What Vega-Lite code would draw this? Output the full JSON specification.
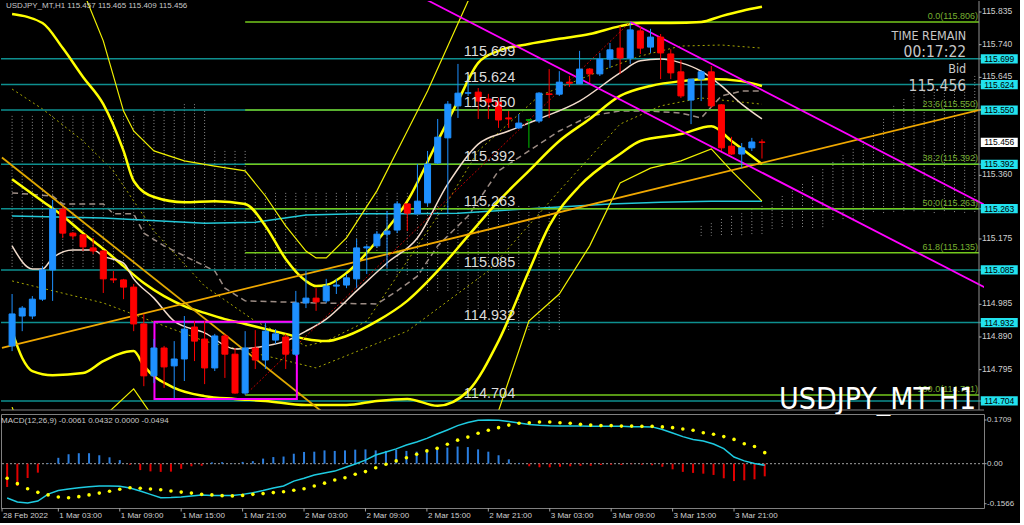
{
"$schema":"https://vega.github.io/schema/vega-lite/v6.json",
"background":"#000000",
"padding":{"left":0,"top":0,"right":2,"bottom":2},
"spacing":4,
"bounds":"flush",
"config":{"view":{"stroke":null}},
"datasets":{
"candles":[
{"t":"2022-02-28T22:00Z","o":114.864,"h":115.015,"l":114.849,"c":114.957},
{"t":"2022-02-28T23:00Z","o":114.951,"h":114.980,"l":114.907,"c":114.974},
{"t":"2022-03-01T00:00Z","o":114.951,"h":115.009,"l":114.942,"c":115.000},
{"t":"2022-03-01T01:00Z","o":115.000,"h":115.096,"l":114.995,"c":115.085},
{"t":"2022-03-01T02:00Z","o":115.085,"h":115.288,"l":114.995,"c":115.262},
{"t":"2022-03-01T03:00Z","o":115.262,"h":115.268,"l":115.178,"c":115.192},
{"t":"2022-03-01T04:00Z","o":115.192,"h":115.195,"l":115.175,"c":115.184},
{"t":"2022-03-01T05:00Z","o":115.187,"h":115.189,"l":115.140,"c":115.152},
{"t":"2022-03-01T06:00Z","o":115.149,"h":115.178,"l":115.131,"c":115.140},
{"t":"2022-03-01T07:00Z","o":115.140,"h":115.143,"l":115.018,"c":115.059},
{"t":"2022-03-01T08:00Z","o":115.059,"h":115.082,"l":115.047,"c":115.056},
{"t":"2022-03-01T09:00Z","o":115.056,"h":115.059,"l":115.000,"c":115.035},
{"t":"2022-03-01T10:00Z","o":115.035,"h":115.044,"l":114.907,"c":114.928},
{"t":"2022-03-01T11:00Z","o":114.928,"h":114.957,"l":114.747,"c":114.777},
{"t":"2022-03-01T12:00Z","o":114.777,"h":114.884,"l":114.756,"c":114.858},
{"t":"2022-03-01T13:00Z","o":114.858,"h":114.864,"l":114.742,"c":114.803},
{"t":"2022-03-01T14:00Z","o":114.806,"h":114.878,"l":114.712,"c":114.826},
{"t":"2022-03-01T15:00Z","o":114.826,"h":114.951,"l":114.762,"c":114.913},
{"t":"2022-03-01T16:00Z","o":114.919,"h":114.936,"l":114.820,"c":114.878},
{"t":"2022-03-01T17:00Z","o":114.884,"h":114.936,"l":114.753,"c":114.800},
{"t":"2022-03-01T18:00Z","o":114.800,"h":114.899,"l":114.791,"c":114.893},
{"t":"2022-03-01T19:00Z","o":114.893,"h":114.899,"l":114.771,"c":114.840},
{"t":"2022-03-01T20:00Z","o":114.840,"h":114.858,"l":114.725,"c":114.727},
{"t":"2022-03-01T21:00Z","o":114.727,"h":114.907,"l":114.721,"c":114.858},
{"t":"2022-03-01T22:00Z","o":114.858,"h":114.910,"l":114.797,"c":114.823},
{"t":"2022-03-01T23:00Z","o":114.823,"h":114.931,"l":114.797,"c":114.907},
{"t":"2022-03-02T00:00Z","o":114.881,"h":114.913,"l":114.870,"c":114.899},
{"t":"2022-03-02T01:00Z","o":114.890,"h":114.899,"l":114.797,"c":114.840},
{"t":"2022-03-02T02:00Z","o":114.840,"h":115.024,"l":114.835,"c":114.989},
{"t":"2022-03-02T03:00Z","o":114.989,"h":115.082,"l":114.974,"c":115.003},
{"t":"2022-03-02T04:00Z","o":115.003,"h":115.032,"l":114.966,"c":114.992},
{"t":"2022-03-02T05:00Z","o":114.995,"h":115.059,"l":114.989,"c":115.038},
{"t":"2022-03-02T06:00Z","o":115.038,"h":115.059,"l":115.015,"c":115.041},
{"t":"2022-03-02T07:00Z","o":115.041,"h":115.073,"l":115.032,"c":115.062},
{"t":"2022-03-02T08:00Z","o":115.059,"h":115.175,"l":115.032,"c":115.149},
{"t":"2022-03-02T09:00Z","o":115.149,"h":115.157,"l":115.073,"c":115.152},
{"t":"2022-03-02T10:00Z","o":115.155,"h":115.198,"l":115.149,"c":115.189},
{"t":"2022-03-02T11:00Z","o":115.189,"h":115.256,"l":115.091,"c":115.198},
{"t":"2022-03-02T12:00Z","o":115.201,"h":115.285,"l":115.192,"c":115.277},
{"t":"2022-03-02T13:00Z","o":115.277,"h":115.277,"l":115.198,"c":115.250},
{"t":"2022-03-02T14:00Z","o":115.248,"h":115.393,"l":115.248,"c":115.285},
{"t":"2022-03-02T15:00Z","o":115.280,"h":115.431,"l":115.271,"c":115.393},
{"t":"2022-03-02T16:00Z","o":115.396,"h":115.524,"l":115.393,"c":115.471},
{"t":"2022-03-02T17:00Z","o":115.469,"h":115.576,"l":115.248,"c":115.567},
{"t":"2022-03-02T18:00Z","o":115.562,"h":115.684,"l":115.527,"c":115.599},
{"t":"2022-03-02T19:00Z","o":115.599,"h":115.649,"l":115.591,"c":115.600},
{"t":"2022-03-02T20:00Z","o":115.602,"h":115.614,"l":115.524,"c":115.576},
{"t":"2022-03-02T21:00Z","o":115.582,"h":115.597,"l":115.524,"c":115.573},
{"t":"2022-03-02T22:00Z","o":115.573,"h":115.585,"l":115.498,"c":115.521},
{"t":"2022-03-02T23:00Z","o":115.527,"h":115.547,"l":115.498,"c":115.524},
{"t":"2022-03-03T00:00Z","o":115.498,"h":115.538,"l":115.495,"c":115.512},
{"t":"2022-03-03T01:00Z","o":115.521,"h":115.524,"l":115.440,"c":115.521},
{"t":"2022-03-03T02:00Z","o":115.518,"h":115.602,"l":115.512,"c":115.599},
{"t":"2022-03-03T03:00Z","o":115.597,"h":115.669,"l":115.527,"c":115.595},
{"t":"2022-03-03T04:00Z","o":115.596,"h":115.663,"l":115.591,"c":115.631},
{"t":"2022-03-03T05:00Z","o":115.631,"h":115.649,"l":115.617,"c":115.628},
{"t":"2022-03-03T06:00Z","o":115.626,"h":115.722,"l":115.626,"c":115.669},
{"t":"2022-03-03T07:00Z","o":115.669,"h":115.672,"l":115.629,"c":115.655},
{"t":"2022-03-03T08:00Z","o":115.655,"h":115.716,"l":115.649,"c":115.698},
{"t":"2022-03-03T09:00Z","o":115.698,"h":115.745,"l":115.672,"c":115.725},
{"t":"2022-03-03T10:00Z","o":115.730,"h":115.794,"l":115.655,"c":115.701},
{"t":"2022-03-03T11:00Z","o":115.701,"h":115.806,"l":115.684,"c":115.783},
{"t":"2022-03-03T12:00Z","o":115.780,"h":115.794,"l":115.713,"c":115.730},
{"t":"2022-03-03T13:00Z","o":115.733,"h":115.786,"l":115.716,"c":115.762},
{"t":"2022-03-03T14:00Z","o":115.762,"h":115.771,"l":115.640,"c":115.716},
{"t":"2022-03-03T15:00Z","o":115.713,"h":115.727,"l":115.640,"c":115.658},
{"t":"2022-03-03T16:00Z","o":115.661,"h":115.695,"l":115.585,"c":115.591},
{"t":"2022-03-03T17:00Z","o":115.579,"h":115.640,"l":115.509,"c":115.640},
{"t":"2022-03-03T18:00Z","o":115.640,"h":115.666,"l":115.576,"c":115.661},
{"t":"2022-03-03T19:00Z","o":115.661,"h":115.678,"l":115.556,"c":115.562},
{"t":"2022-03-03T20:00Z","o":115.565,"h":115.567,"l":115.431,"c":115.440},
{"t":"2022-03-03T21:00Z","o":115.445,"h":115.472,"l":115.419,"c":115.422},
{"t":"2022-03-03T22:00Z","o":115.422,"h":115.454,"l":115.381,"c":115.440},
{"t":"2022-03-03T23:00Z","o":115.440,"h":115.469,"l":115.431,"c":115.457},
{"t":"2022-03-04T00:00Z","o":115.457,"h":115.465,"l":115.409,"c":115.456}
],
"macd":[
{"t":"2022-02-28T22:00Z","m":-0.134,"s":-0.057,"h":-0.091},
{"t":"2022-02-28T23:00Z","m":-0.150,"s":-0.078,"h":-0.087},
{"t":"2022-03-01T00:00Z","m":-0.154,"s":-0.098,"h":-0.056},
{"t":"2022-03-01T01:00Z","m":-0.146,"s":-0.112,"h":-0.035},
{"t":"2022-03-01T02:00Z","m":-0.119,"s":-0.122,"h":0.002},
{"t":"2022-03-01T03:00Z","m":-0.105,"s":-0.130,"h":0.023},
{"t":"2022-03-01T04:00Z","m":-0.099,"s":-0.133,"h":0.037},
{"t":"2022-03-01T05:00Z","m":-0.094,"s":-0.129,"h":0.041},
{"t":"2022-03-01T06:00Z","m":-0.090,"s":-0.122,"h":0.041},
{"t":"2022-03-01T07:00Z","m":-0.087,"s":-0.115,"h":0.033},
{"t":"2022-03-01T08:00Z","m":-0.087,"s":-0.108,"h":0.025},
{"t":"2022-03-01T09:00Z","m":-0.088,"s":-0.100,"h":0.014},
{"t":"2022-03-01T10:00Z","m":-0.095,"s":-0.094,"h":-0.004},
{"t":"2022-03-01T11:00Z","m":-0.107,"s":-0.096,"h":-0.025},
{"t":"2022-03-01T12:00Z","m":-0.120,"s":-0.099,"h":-0.030},
{"t":"2022-03-01T13:00Z","m":-0.133,"s":-0.102,"h":-0.032},
{"t":"2022-03-01T14:00Z","m":-0.132,"s":-0.107,"h":-0.031},
{"t":"2022-03-01T15:00Z","m":-0.130,"s":-0.111,"h":-0.020},
{"t":"2022-03-01T16:00Z","m":-0.126,"s":-0.115,"h":-0.010},
{"t":"2022-03-01T17:00Z","m":-0.122,"s":-0.120,"h":-0.008},
{"t":"2022-03-01T18:00Z","m":-0.124,"s":-0.122,"h":0.005},
{"t":"2022-03-01T19:00Z","m":-0.124,"s":-0.125,"h":0.006},
{"t":"2022-03-01T20:00Z","m":-0.124,"s":-0.126,"h":0.001},
{"t":"2022-03-01T21:00Z","m":-0.120,"s":-0.124,"h":0.007},
{"t":"2022-03-01T22:00Z","m":-0.114,"s":-0.120,"h":0.010},
{"t":"2022-03-01T23:00Z","m":-0.105,"s":-0.117,"h":0.020},
{"t":"2022-03-02T00:00Z","m":-0.095,"s":-0.113,"h":0.026},
{"t":"2022-03-02T01:00Z","m":-0.087,"s":-0.110,"h":0.028},
{"t":"2022-03-02T02:00Z","m":-0.068,"s":-0.104,"h":0.039},
{"t":"2022-03-02T03:00Z","m":-0.057,"s":-0.098,"h":0.046},
{"t":"2022-03-02T04:00Z","m":-0.044,"s":-0.087,"h":0.047},
{"t":"2022-03-02T05:00Z","m":-0.036,"s":-0.076,"h":0.052},
{"t":"2022-03-02T06:00Z","m":-0.029,"s":-0.064,"h":0.050},
{"t":"2022-03-02T07:00Z","m":-0.015,"s":-0.055,"h":0.052},
{"t":"2022-03-02T08:00Z","m":-0.001,"s":-0.041,"h":0.055},
{"t":"2022-03-02T09:00Z","m":0.014,"s":-0.031,"h":0.056},
{"t":"2022-03-02T10:00Z","m":0.034,"s":-0.016,"h":0.052},
{"t":"2022-03-02T11:00Z","m":0.046,"s":-0.002,"h":0.050},
{"t":"2022-03-02T12:00Z","m":0.058,"s":0.011,"h":0.055},
{"t":"2022-03-02T13:00Z","m":0.073,"s":0.023,"h":0.050},
{"t":"2022-03-02T14:00Z","m":0.085,"s":0.037,"h":0.047},
{"t":"2022-03-02T15:00Z","m":0.099,"s":0.050,"h":0.052},
{"t":"2022-03-02T16:00Z","m":0.116,"s":0.060,"h":0.059},
{"t":"2022-03-02T17:00Z","m":0.132,"s":0.076,"h":0.063},
{"t":"2022-03-02T18:00Z","m":0.149,"s":0.092,"h":0.067},
{"t":"2022-03-02T19:00Z","m":0.161,"s":0.104,"h":0.065},
{"t":"2022-03-02T20:00Z","m":0.170,"s":0.119,"h":0.056},
{"t":"2022-03-02T21:00Z","m":0.171,"s":0.131,"h":0.047},
{"t":"2022-03-02T22:00Z","m":0.170,"s":0.141,"h":0.033},
{"t":"2022-03-02T23:00Z","m":0.165,"s":0.151,"h":0.017},
{"t":"2022-03-03T00:00Z","m":0.159,"s":0.158,"h":0.003},
{"t":"2022-03-03T01:00Z","m":0.153,"s":0.160,"h":-0.010},
{"t":"2022-03-03T02:00Z","m":0.150,"s":0.163,"h":-0.014},
{"t":"2022-03-03T03:00Z","m":0.148,"s":0.163,"h":-0.014},
{"t":"2022-03-03T04:00Z","m":0.147,"s":0.160,"h":-0.012},
{"t":"2022-03-03T05:00Z","m":0.147,"s":0.158,"h":-0.010},
{"t":"2022-03-03T06:00Z","m":0.147,"s":0.154,"h":-0.008},
{"t":"2022-03-03T07:00Z","m":0.146,"s":0.151,"h":-0.008},
{"t":"2022-03-03T08:00Z","m":0.146,"s":0.149,"h":-0.005},
{"t":"2022-03-03T09:00Z","m":0.146,"s":0.149,"h":-0.004},
{"t":"2022-03-03T10:00Z","m":0.146,"s":0.147,"h":-0.005},
{"t":"2022-03-03T11:00Z","m":0.145,"s":0.147,"h":-0.002},
{"t":"2022-03-03T12:00Z","m":0.145,"s":0.146,"h":-0.004},
{"t":"2022-03-03T13:00Z","m":0.144,"s":0.146,"h":-0.006},
{"t":"2022-03-03T14:00Z","m":0.134,"s":0.144,"h":-0.012},
{"t":"2022-03-03T15:00Z","m":0.120,"s":0.141,"h":-0.022},
{"t":"2022-03-03T16:00Z","m":0.106,"s":0.136,"h":-0.032},
{"t":"2022-03-03T17:00Z","m":0.095,"s":0.131,"h":-0.036},
{"t":"2022-03-03T18:00Z","m":0.089,"s":0.121,"h":-0.039},
{"t":"2022-03-03T19:00Z","m":0.077,"s":0.115,"h":-0.044},
{"t":"2022-03-03T20:00Z","m":0.059,"s":0.106,"h":-0.057},
{"t":"2022-03-03T21:00Z","m":0.026,"s":0.095,"h":-0.068},
{"t":"2022-03-03T22:00Z","m":0.011,"s":0.078,"h":-0.065},
{"t":"2022-03-03T23:00Z","m":0.001,"s":0.067,"h":-0.061},
{"t":"2022-03-04T00:00Z","m":-0.0061,"s":0.0432,"h":-0.0494}
],
"ind":[
{"k":"u2","t":"2022-02-28T22:00Z","p":115.829},{"k":"u2","t":"2022-03-01T01:00Z","p":115.803},{"k":"u2","t":"2022-03-01T03:00Z","p":115.730},{"k":"u2","t":"2022-03-01T05:00Z","p":115.646},{"k":"u2","t":"2022-03-01T07:00Z","p":115.567},{"k":"u2","t":"2022-03-01T09:00Z","p":115.431},{"k":"u2","t":"2022-03-01T10:00Z","p":115.344},{"k":"u2","t":"2022-03-01T12:00Z","p":115.297},{"k":"u2","t":"2022-03-01T15:00Z","p":115.282},{"k":"u2","t":"2022-03-01T18:00Z","p":115.285},{"k":"u2","t":"2022-03-01T21:00Z","p":115.277},{"k":"u2","t":"2022-03-01T23:00Z","p":115.213},{"k":"u2","t":"2022-03-02T01:00Z","p":115.117},{"k":"u2","t":"2022-03-02T03:00Z","p":115.053},{"k":"u2","t":"2022-03-02T04:00Z","p":115.038},{"k":"u2","t":"2022-03-02T05:00Z","p":115.041},{"k":"u2","t":"2022-03-02T07:00Z","p":115.076},{"k":"u2","t":"2022-03-02T10:00Z","p":115.169},{"k":"u2","t":"2022-03-02T13:00Z","p":115.285},{"k":"u2","t":"2022-03-02T16:00Z","p":115.460},{"k":"u2","t":"2022-03-02T18:00Z","p":115.576},{"k":"u2","t":"2022-03-02T20:00Z","p":115.687},{"k":"u2","t":"2022-03-02T22:00Z","p":115.722},{"k":"u2","t":"2022-03-03T01:00Z","p":115.742},{"k":"u2","t":"2022-03-03T04:00Z","p":115.757},{"k":"u2","t":"2022-03-03T07:00Z","p":115.771},{"k":"u2","t":"2022-03-03T10:00Z","p":115.794},{"k":"u2","t":"2022-03-03T12:00Z","p":115.803},{"k":"u2","t":"2022-03-03T15:00Z","p":115.803},{"k":"u2","t":"2022-03-03T18:00Z","p":115.806},{"k":"u2","t":"2022-03-03T20:00Z","p":115.823},{"k":"u2","t":"2022-03-03T22:00Z","p":115.838},{"k":"u2","t":"2022-03-04T00:00Z","p":115.850},
{"k":"md","t":"2022-02-28T22:00Z","p":115.349},{"k":"md","t":"2022-03-01T01:00Z","p":115.285},{"k":"md","t":"2022-03-01T03:00Z","p":115.242},{"k":"md","t":"2022-03-01T05:00Z","p":115.192},{"k":"md","t":"2022-03-01T07:00Z","p":115.146},{"k":"md","t":"2022-03-01T09:00Z","p":115.096},{"k":"md","t":"2022-03-01T11:00Z","p":115.047},{"k":"md","t":"2022-03-01T13:00Z","p":115.009},{"k":"md","t":"2022-03-01T15:00Z","p":114.980},{"k":"md","t":"2022-03-01T17:00Z","p":114.960},{"k":"md","t":"2022-03-01T19:00Z","p":114.942},{"k":"md","t":"2022-03-01T21:00Z","p":114.928},{"k":"md","t":"2022-03-01T23:00Z","p":114.913},{"k":"md","t":"2022-03-02T01:00Z","p":114.899},{"k":"md","t":"2022-03-02T03:00Z","p":114.884},{"k":"md","t":"2022-03-02T05:00Z","p":114.878},{"k":"md","t":"2022-03-02T07:00Z","p":114.893},{"k":"md","t":"2022-03-02T10:00Z","p":114.936},{"k":"md","t":"2022-03-02T13:00Z","p":114.995},{"k":"md","t":"2022-03-02T16:00Z","p":115.082},{"k":"md","t":"2022-03-02T19:00Z","p":115.184},{"k":"md","t":"2022-03-02T22:00Z","p":115.285},{"k":"md","t":"2022-03-03T01:00Z","p":115.373},{"k":"md","t":"2022-03-03T04:00Z","p":115.460},{"k":"md","t":"2022-03-03T07:00Z","p":115.524},{"k":"md","t":"2022-03-03T10:00Z","p":115.591},{"k":"md","t":"2022-03-03T13:00Z","p":115.620},{"k":"md","t":"2022-03-03T16:00Z","p":115.634},{"k":"md","t":"2022-03-03T19:00Z","p":115.640},{"k":"md","t":"2022-03-03T22:00Z","p":115.634},{"k":"md","t":"2022-03-04T00:00Z","p":115.620},
{"k":"l2","t":"2022-02-28T22:00Z","p":114.907},{"k":"l2","t":"2022-02-28T23:00Z","p":114.829},{"k":"l2","t":"2022-03-01T00:00Z","p":114.791},{"k":"l2","t":"2022-03-01T02:00Z","p":114.779},{"k":"l2","t":"2022-03-01T05:00Z","p":114.785},{"k":"l2","t":"2022-03-01T07:00Z","p":114.820},{"k":"l2","t":"2022-03-01T10:00Z","p":114.849},{"k":"l2","t":"2022-03-01T11:00Z","p":114.806},{"k":"l2","t":"2022-03-01T14:00Z","p":114.742},{"k":"l2","t":"2022-03-01T17:00Z","p":114.718},{"k":"l2","t":"2022-03-01T20:00Z","p":114.710},{"k":"l2","t":"2022-03-01T23:00Z","p":114.704},{"k":"l2","t":"2022-03-02T03:00Z","p":114.692},{"k":"l2","t":"2022-03-02T07:00Z","p":114.692},{"k":"l2","t":"2022-03-02T10:00Z","p":114.704},{"k":"l2","t":"2022-03-02T13:00Z","p":114.710},{"k":"l2","t":"2022-03-02T16:00Z","p":114.690},{"k":"l2","t":"2022-03-02T19:00Z","p":114.733},{"k":"l2","t":"2022-03-02T22:00Z","p":114.878},{"k":"l2","t":"2022-03-03T01:00Z","p":115.082},{"k":"l2","t":"2022-03-03T03:00Z","p":115.213},{"k":"l2","t":"2022-03-03T06:00Z","p":115.329},{"k":"l2","t":"2022-03-03T10:00Z","p":115.422},{"k":"l2","t":"2022-03-03T12:00Z","p":115.460},{"k":"l2","t":"2022-03-03T16:00Z","p":115.480},{"k":"l2","t":"2022-03-03T19:00Z","p":115.503},{"k":"l2","t":"2022-03-03T21:00Z","p":115.460},{"k":"l2","t":"2022-03-04T00:00Z","p":115.393},
{"k":"u3","t":"2022-03-01T03:00Z","p":116.000},{"k":"u3","t":"2022-03-01T05:00Z","p":115.896},{"k":"u3","t":"2022-03-01T07:00Z","p":115.751},{"k":"u3","t":"2022-03-01T09:00Z","p":115.547},{"k":"u3","t":"2022-03-01T10:00Z","p":115.489},{"k":"u3","t":"2022-03-01T12:00Z","p":115.431},{"k":"u3","t":"2022-03-01T15:00Z","p":115.402},{"k":"u3","t":"2022-03-01T18:00Z","p":115.387},{"k":"u3","t":"2022-03-01T21:00Z","p":115.373},{"k":"u3","t":"2022-03-01T23:00Z","p":115.300},{"k":"u3","t":"2022-03-02T01:00Z","p":115.213},{"k":"u3","t":"2022-03-02T03:00Z","p":115.140},{"k":"u3","t":"2022-03-02T04:00Z","p":115.120},{"k":"u3","t":"2022-03-02T05:00Z","p":115.120},{"k":"u3","t":"2022-03-02T07:00Z","p":115.178},{"k":"u3","t":"2022-03-02T10:00Z","p":115.315},{"k":"u3","t":"2022-03-02T13:00Z","p":115.489},{"k":"u3","t":"2022-03-02T15:00Z","p":115.605},{"k":"u3","t":"2022-03-02T17:00Z","p":115.736},{"k":"u3","t":"2022-03-02T19:00Z","p":115.867},{"k":"u3","t":"2022-03-02T21:00Z","p":115.954},
{"k":"l3","t":"2022-02-28T22:00Z","p":114.686},{"k":"l3","t":"2022-03-01T00:00Z","p":114.529},{"k":"l3","t":"2022-03-01T04:00Z","p":114.560},{"k":"l3","t":"2022-03-01T07:00Z","p":114.657},{"k":"l3","t":"2022-03-01T10:00Z","p":114.739},{"k":"l3","t":"2022-03-01T12:00Z","p":114.654},{"k":"l3","t":"2022-03-01T15:00Z","p":114.600},{"k":"l3","t":"2022-03-01T23:00Z","p":114.560},{"k":"l3","t":"2022-03-02T09:00Z","p":114.500},{"k":"l3","t":"2022-03-02T19:00Z","p":114.450},{"k":"l3","t":"2022-03-02T22:00Z","p":114.675},{"k":"l3","t":"2022-03-03T01:00Z","p":114.936},{"k":"l3","t":"2022-03-03T04:00Z","p":115.015},{"k":"l3","t":"2022-03-03T07:00Z","p":115.155},{"k":"l3","t":"2022-03-03T10:00Z","p":115.338},{"k":"l3","t":"2022-03-03T13:00Z","p":115.381},{"k":"l3","t":"2022-03-03T16:00Z","p":115.402},{"k":"l3","t":"2022-03-03T19:00Z","p":115.437},{"k":"l3","t":"2022-03-03T21:00Z","p":115.373},{"k":"l3","t":"2022-03-04T00:00Z","p":115.285},
{"k":"ma","t":"2022-02-28T22:00Z","p":115.155},{"k":"ma","t":"2022-03-01T00:00Z","p":115.088},{"k":"ma","t":"2022-03-01T01:00Z","p":115.088},{"k":"ma","t":"2022-03-01T02:00Z","p":115.120},{"k":"ma","t":"2022-03-01T04:00Z","p":115.143},{"k":"ma","t":"2022-03-01T06:00Z","p":115.143},{"k":"ma","t":"2022-03-01T07:00Z","p":115.125},{"k":"ma","t":"2022-03-01T09:00Z","p":115.105},{"k":"ma","t":"2022-03-01T10:00Z","p":115.059},{"k":"ma","t":"2022-03-01T12:00Z","p":115.003},{"k":"ma","t":"2022-03-01T14:00Z","p":114.936},{"k":"ma","t":"2022-03-01T17:00Z","p":114.902},{"k":"ma","t":"2022-03-01T20:00Z","p":114.855},{"k":"ma","t":"2022-03-01T23:00Z","p":114.864},{"k":"ma","t":"2022-03-02T01:00Z","p":114.878},{"k":"ma","t":"2022-03-02T03:00Z","p":114.907},{"k":"ma","t":"2022-03-02T05:00Z","p":114.942},{"k":"ma","t":"2022-03-02T08:00Z","p":115.024},{"k":"ma","t":"2022-03-02T11:00Z","p":115.105},{"k":"ma","t":"2022-03-02T14:00Z","p":115.178},{"k":"ma","t":"2022-03-02T17:00Z","p":115.335},{"k":"ma","t":"2022-03-02T20:00Z","p":115.451},{"k":"ma","t":"2022-03-02T23:00Z","p":115.489},{"k":"ma","t":"2022-03-03T02:00Z","p":115.524},{"k":"ma","t":"2022-03-03T06:00Z","p":115.576},{"k":"ma","t":"2022-03-03T10:00Z","p":115.658},{"k":"ma","t":"2022-03-03T12:00Z","p":115.693},{"k":"ma","t":"2022-03-03T14:00Z","p":115.698},{"k":"ma","t":"2022-03-03T16:00Z","p":115.687},{"k":"ma","t":"2022-03-03T18:00Z","p":115.663},{"k":"ma","t":"2022-03-03T20:00Z","p":115.620},{"k":"ma","t":"2022-03-03T22:00Z","p":115.567},{"k":"ma","t":"2022-03-04T00:00Z","p":115.524},
{"k":"cy","t":"2022-02-28T22:00Z","p":115.242},{"k":"cy","t":"2022-03-01T07:00Z","p":115.236},{"k":"cy","t":"2022-03-01T17:00Z","p":115.221},{"k":"cy","t":"2022-03-01T22:00Z","p":115.224},{"k":"cy","t":"2022-03-02T03:00Z","p":115.245},{"k":"cy","t":"2022-03-02T08:00Z","p":115.248},{"k":"cy","t":"2022-03-02T13:00Z","p":115.248},{"k":"cy","t":"2022-03-02T18:00Z","p":115.250},{"k":"cy","t":"2022-03-02T23:00Z","p":115.259},{"k":"cy","t":"2022-03-03T04:00Z","p":115.268},{"k":"cy","t":"2022-03-03T09:00Z","p":115.277},{"k":"cy","t":"2022-03-03T14:00Z","p":115.282},{"k":"cy","t":"2022-03-03T19:00Z","p":115.285},{"k":"cy","t":"2022-03-04T00:00Z","p":115.285},
{"k":"kj","t":"2022-02-28T22:00Z","p":115.309},{"k":"kj","t":"2022-03-01T02:00Z","p":115.300},{"k":"kj","t":"2022-03-01T03:00Z","p":115.277},{"k":"kj","t":"2022-03-01T07:00Z","p":115.277},{"k":"kj","t":"2022-03-01T08:00Z","p":115.248},{"k":"kj","t":"2022-03-01T10:00Z","p":115.248},{"k":"kj","t":"2022-03-01T11:00Z","p":115.192},{"k":"kj","t":"2022-03-01T13:00Z","p":115.155},{"k":"kj","t":"2022-03-01T18:00Z","p":115.082},{"k":"kj","t":"2022-03-01T19:00Z","p":115.032},{"k":"kj","t":"2022-03-01T21:00Z","p":114.995},{"k":"kj","t":"2022-03-02T04:00Z","p":114.989},{"k":"kj","t":"2022-03-02T10:00Z","p":114.986},{"k":"kj","t":"2022-03-02T12:00Z","p":115.024},{"k":"kj","t":"2022-03-02T14:00Z","p":115.067},{"k":"kj","t":"2022-03-02T16:00Z","p":115.155},{"k":"kj","t":"2022-03-02T19:00Z","p":115.242},{"k":"kj","t":"2022-03-02T22:00Z","p":115.373},{"k":"kj","t":"2022-03-03T01:00Z","p":115.431},{"k":"kj","t":"2022-03-03T04:00Z","p":115.489},{"k":"kj","t":"2022-03-03T07:00Z","p":115.533},{"k":"kj","t":"2022-03-03T10:00Z","p":115.547},{"k":"kj","t":"2022-03-03T13:00Z","p":115.547},{"k":"kj","t":"2022-03-03T16:00Z","p":115.541},{"k":"kj","t":"2022-03-03T18:00Z","p":115.527},{"k":"kj","t":"2022-03-03T20:00Z","p":115.591},{"k":"kj","t":"2022-03-03T22:00Z","p":115.605},{"k":"kj","t":"2022-03-04T00:00Z","p":115.605},
{"k":"o1","t":"2022-02-28T22:00Z","p":115.611},{"k":"o1","t":"2022-03-01T01:00Z","p":115.553},{"k":"o1","t":"2022-03-01T05:00Z","p":115.460},{"k":"o1","t":"2022-03-01T08:00Z","p":115.373},{"k":"o1","t":"2022-03-01T12:00Z","p":115.198},{"k":"o1","t":"2022-03-01T17:00Z","p":115.038},{"k":"o1","t":"2022-03-01T22:00Z","p":114.936},{"k":"o1","t":"2022-03-02T03:00Z","p":114.864},{"k":"o1","t":"2022-03-02T05:00Z","p":114.878},{"k":"o1","t":"2022-03-02T09:00Z","p":114.936},{"k":"o1","t":"2022-03-02T13:00Z","p":115.111},{"k":"o1","t":"2022-03-02T17:00Z","p":115.285},{"k":"o1","t":"2022-03-02T20:00Z","p":115.431},{"k":"o1","t":"2022-03-03T02:00Z","p":115.591},{"k":"o1","t":"2022-03-03T08:00Z","p":115.663},{"k":"o1","t":"2022-03-03T12:00Z","p":115.707},{"k":"o1","t":"2022-03-03T16:00Z","p":115.736},{"k":"o1","t":"2022-03-03T20:00Z","p":115.739},{"k":"o1","t":"2022-03-04T00:00Z","p":115.730},
{"k":"o2","t":"2022-02-28T22:00Z","p":115.053},{"k":"o2","t":"2022-03-01T07:00Z","p":114.989},{"k":"o2","t":"2022-03-01T17:00Z","p":114.878},{"k":"o2","t":"2022-03-02T04:00Z","p":114.800},{"k":"o2","t":"2022-03-02T13:00Z","p":114.907},{"k":"o2","t":"2022-03-02T21:00Z","p":115.082},{"k":"o2","t":"2022-03-03T04:00Z","p":115.315},{"k":"o2","t":"2022-03-03T10:00Z","p":115.509},{"k":"o2","t":"2022-03-03T14:00Z","p":115.562},{"k":"o2","t":"2022-03-03T18:00Z","p":115.585},{"k":"o2","t":"2022-03-04T00:00Z","p":115.567}
],
"cloud":[
{"t":"2022-02-28T22:00Z","a":115.533,"b":115.088},{"t":"2022-02-28T23:00Z","a":115.533,"b":115.088},{"t":"2022-03-01T00:00Z","a":115.533,"b":115.088},{"t":"2022-03-01T01:00Z","a":115.533,"b":115.088},{"t":"2022-03-01T02:00Z","a":115.533,"b":115.088},{"t":"2022-03-01T03:00Z","a":115.533,"b":115.088},{"t":"2022-03-01T04:00Z","a":115.533,"b":115.088},{"t":"2022-03-01T05:00Z","a":115.533,"b":115.088},{"t":"2022-03-01T06:00Z","a":115.533,"b":115.088},{"t":"2022-03-01T07:00Z","a":115.533,"b":115.088},{"t":"2022-03-01T08:00Z","a":115.533,"b":115.088},{"t":"2022-03-01T09:00Z","a":115.533,"b":115.088},{"t":"2022-03-01T10:00Z","a":115.533,"b":115.088},{"t":"2022-03-01T11:00Z","a":115.533,"b":115.088},{"t":"2022-03-01T12:00Z","a":115.547,"b":115.088},{"t":"2022-03-01T13:00Z","a":115.547,"b":115.088},{"t":"2022-03-01T14:00Z","a":115.547,"b":115.088},{"t":"2022-03-01T15:00Z","a":115.567,"b":115.088},{"t":"2022-03-01T16:00Z","a":115.567,"b":115.088},{"t":"2022-03-01T17:00Z","a":115.547,"b":115.088},{"t":"2022-03-01T18:00Z","a":115.431,"b":115.088},{"t":"2022-03-01T19:00Z","a":115.431,"b":115.088},{"t":"2022-03-01T20:00Z","a":115.431,"b":115.088},{"t":"2022-03-01T21:00Z","a":115.431,"b":115.088},{"t":"2022-03-01T22:00Z","a":115.309,"b":115.088},{"t":"2022-03-01T23:00Z","a":115.309,"b":115.088},{"t":"2022-03-02T00:00Z","a":115.309,"b":115.088},{"t":"2022-03-02T01:00Z","a":115.309,"b":115.088},{"t":"2022-03-02T02:00Z","a":115.309,"b":115.088},
{"t":"2022-03-02T03:00Z","a":115.309,"b":115.178},{"t":"2022-03-02T04:00Z","a":115.309,"b":115.178},{"t":"2022-03-02T05:00Z","a":115.309,"b":115.178},{"t":"2022-03-02T06:00Z","a":115.309,"b":115.178},{"t":"2022-03-02T07:00Z","a":115.309,"b":115.140},{"t":"2022-03-02T08:00Z","a":115.309,"b":115.140},{"t":"2022-03-02T09:00Z","a":115.309,"b":115.140},{"t":"2022-03-02T10:00Z","a":115.309,"b":115.140},{"t":"2022-03-02T11:00Z","a":115.309,"b":115.067},{"t":"2022-03-02T12:00Z","a":115.309,"b":115.067},{"t":"2022-03-02T13:00Z","a":115.309,"b":115.067},{"t":"2022-03-02T14:00Z","a":115.271,"b":115.067},{"t":"2022-03-02T15:00Z","a":115.271,"b":115.024},{"t":"2022-03-02T16:00Z","a":115.271,"b":115.024},{"t":"2022-03-02T17:00Z","a":115.271,"b":115.024},{"t":"2022-03-02T18:00Z","a":115.271,"b":115.024},{"t":"2022-03-02T19:00Z","a":115.271,"b":114.966},{"t":"2022-03-02T20:00Z","a":115.271,"b":114.966},{"t":"2022-03-02T21:00Z","a":115.271,"b":114.966},{"t":"2022-03-02T22:00Z","a":115.271,"b":114.966},{"t":"2022-03-02T23:00Z","a":115.271,"b":114.907},{"t":"2022-03-03T00:00Z","a":115.271,"b":114.907},{"t":"2022-03-03T01:00Z","a":115.271,"b":114.907},{"t":"2022-03-03T02:00Z","a":115.271,"b":114.907},{"t":"2022-03-03T03:00Z","a":115.271,"b":114.907},{"t":"2022-03-03T04:00Z","a":115.271,"b":114.907},
{"t":"2022-03-03T18:00Z","a":115.213,"b":115.184},{"t":"2022-03-03T19:00Z","a":115.221,"b":115.184},{"t":"2022-03-03T20:00Z","a":115.233,"b":115.184},{"t":"2022-03-03T21:00Z","a":115.242,"b":115.184},{"t":"2022-03-03T22:00Z","a":115.250,"b":115.184},{"t":"2022-03-03T23:00Z","a":115.262,"b":115.184},{"t":"2022-03-04T00:00Z","a":115.271,"b":115.184},{"t":"2022-03-04T01:00Z","a":115.285,"b":115.204},{"t":"2022-03-04T02:00Z","a":115.300,"b":115.204},{"t":"2022-03-04T03:00Z","a":115.315,"b":115.204},{"t":"2022-03-04T04:00Z","a":115.335,"b":115.204},{"t":"2022-03-04T05:00Z","a":115.358,"b":115.204},{"t":"2022-03-04T06:00Z","a":115.378,"b":115.204},{"t":"2022-03-04T07:00Z","a":115.399,"b":115.227},{"t":"2022-03-04T08:00Z","a":115.419,"b":115.227},{"t":"2022-03-04T09:00Z","a":115.437,"b":115.227},{"t":"2022-03-04T10:00Z","a":115.460,"b":115.227},{"t":"2022-03-04T11:00Z","a":115.483,"b":115.250},{"t":"2022-03-04T12:00Z","a":115.524,"b":115.250},{"t":"2022-03-04T13:00Z","a":115.562,"b":115.250},{"t":"2022-03-04T14:00Z","a":115.582,"b":115.250},{"t":"2022-03-04T15:00Z","a":115.599,"b":115.250},{"t":"2022-03-04T16:00Z","a":115.605,"b":115.250},{"t":"2022-03-04T17:00Z","a":115.611,"b":115.250},{"t":"2022-03-04T18:00Z","a":115.608,"b":115.250},{"t":"2022-03-04T19:00Z","a":115.605,"b":115.250},{"t":"2022-03-04T20:00Z","a":115.629,"b":115.250},{"t":"2022-03-04T21:00Z","a":115.649,"b":115.250}
],
"trend":[
{"n":"up","t":"2022-02-28T21:00Z","p":114.858},{"n":"up","t":"2022-03-04T22:00Z","p":115.554},
{"n":"down","t":"2022-02-28T21:00Z","p":115.412},{"n":"down","t":"2022-03-02T05:00Z","p":114.663},
{"n":"ch1","t":"2022-03-02T15:00Z","p":115.869},{"n":"ch1","t":"2022-03-04T22:00Z","p":115.034},
{"n":"ch2","t":"2022-03-03T11:00Z","p":115.806},{"n":"ch2","t":"2022-03-04T22:00Z","p":115.274},
{"n":"fib","t":"2022-03-01T21:00Z","p":114.721},{"n":"fib","t":"2022-03-03T11:00Z","p":115.806}
],
"levels":[{"p":115.699,"s":"115.699"},{"p":115.624,"s":"115.624"},{"p":115.550,"s":"115.550"},{"p":115.392,"s":"115.392"},{"p":115.263,"s":"115.263"},{"p":115.085,"s":"115.085"},{"p":114.932,"s":"114.932"},{"p":114.704,"s":"114.704"}],
"fibs":[{"t":"2022-03-01T21:00Z","p":115.806,"s":"0.0(115.806)"},{"t":"2022-03-01T21:00Z","p":115.550,"s":"23.6(115.550)"},{"t":"2022-03-01T21:00Z","p":115.392,"s":"38.2(115.392)"},{"t":"2022-03-01T21:00Z","p":115.263,"s":"50.0(115.263)"},{"t":"2022-03-01T21:00Z","p":115.135,"s":"61.8(115.135)"},{"t":"2022-03-01T21:00Z","p":114.721,"s":"100.0(114.721)"}],
"boxes":[{"p":115.699,"s":"115.699","k":"lv"},{"p":115.624,"s":"115.624","k":"lv"},{"p":115.550,"s":"115.550","k":"lv"},{"p":115.456,"s":"115.456","k":"bid"},{"p":115.392,"s":"115.392","k":"lv"},{"p":115.263,"s":"115.263","k":"lv"},{"p":115.085,"s":"115.085","k":"lv"},{"p":114.932,"s":"114.932","k":"lv"},{"p":114.704,"s":"114.704","k":"lv"}],
"yt":[{"p":115.835,"s":"115.835"},{"p":115.740,"s":"115.740"},{"p":115.645,"s":"115.645"},{"p":115.360,"s":"115.360"},{"p":115.175,"s":"115.175"},{"p":114.985,"s":"114.985"},{"p":114.890,"s":"114.890"},{"p":114.795,"s":"114.795"}],
"mt":[{"v":0.1709,"s":"0.1709"},{"v":0,"s":"0.00"},{"v":-0.1566,"s":"-0.1566"}],
"xt":[{"t":"2022-02-28T21:30Z","s":"28 Feb 2022"},{"t":"2022-03-01T03:00Z","s":"1 Mar 03:00"},{"t":"2022-03-01T09:00Z","s":"1 Mar 09:00"},{"t":"2022-03-01T15:00Z","s":"1 Mar 15:00"},{"t":"2022-03-01T21:00Z","s":"1 Mar 21:00"},{"t":"2022-03-02T03:00Z","s":"2 Mar 03:00"},{"t":"2022-03-02T09:00Z","s":"2 Mar 09:00"},{"t":"2022-03-02T15:00Z","s":"2 Mar 15:00"},{"t":"2022-03-02T21:00Z","s":"2 Mar 21:00"},{"t":"2022-03-03T03:00Z","s":"3 Mar 03:00"},{"t":"2022-03-03T09:00Z","s":"3 Mar 09:00"},{"t":"2022-03-03T15:00Z","s":"3 Mar 15:00"},{"t":"2022-03-03T21:00Z","s":"3 Mar 21:00"}]
},
"vconcat":[
{
"width":983,"height":409,
"layer":[
{"data":{"name":"cloud"},"mark":{"type":"rule","color":"#8a8a8a","strokeWidth":1,"strokeDash":[1,2]},
 "encoding":{"x":{"field":"t","type":"temporal","axis":null},"y":{"field":"a","type":"quantitative","axis":null},"y2":{"field":"b"}}},
{"data":{"name":"ind"},"transform":[{"filter":"datum.k=='o1'||datum.k=='o2'"}],"mark":{"type":"line","color":"#a8a800","strokeWidth":1,"strokeDash":[2,3],"clip":true},
 "encoding":{"x":{"field":"t","type":"temporal","axis":null},"y":{"field":"p","type":"quantitative","axis":null},"detail":{"field":"k"}}},
{"data":{"name":"ind"},"transform":[{"filter":"datum.k=='kj'"}],"mark":{"type":"line","color":"#9c8c84","strokeWidth":1.5,"strokeDash":[6,4],"clip":true},
 "encoding":{"x":{"field":"t","type":"temporal","axis":null},"y":{"field":"p","type":"quantitative","axis":null}}},
{"data":{"name":"ind"},"transform":[{"filter":"datum.k=='cy'"}],"mark":{"type":"line","color":"#22c8d8","strokeWidth":1.5,"clip":true},
 "encoding":{"x":{"field":"t","type":"temporal","axis":null},"y":{"field":"p","type":"quantitative","axis":null}}},
{"data":{"name":"levels"},"mark":{"type":"rule","color":"#0e8f8f","strokeWidth":1.5},
 "encoding":{"y":{"field":"p","type":"quantitative","axis":null}}},
{"data":{"name":"fibs"},"mark":{"type":"rule","color":"#74c81c","strokeWidth":1.5},
 "encoding":{"x":{"field":"t","type":"temporal","axis":null},"x2":{"datum":{"year":2022,"month":"Mar","date":4,"hours":21,"minutes":25,"utc":true}},"y":{"field":"p","type":"quantitative","axis":null}}},
{"data":{"name":"fibs"},"mark":{"type":"text","color":"#78b030","fontSize":9,"font":"Liberation Sans","align":"right","baseline":"bottom","dx":-1,"dy":-1},
 "encoding":{"x":{"datum":{"year":2022,"month":"Mar","date":4,"hours":21,"minutes":25,"utc":true},"type":"temporal","axis":null},"y":{"field":"p","type":"quantitative","axis":null},"text":{"field":"s"}}},
{"data":{"name":"ind"},"transform":[{"filter":"datum.k=='u3'||datum.k=='l3'"}],"mark":{"type":"line","color":"#f0f000","strokeWidth":1.2,"clip":true},
 "encoding":{"x":{"field":"t","type":"temporal","axis":null},"y":{"field":"p","type":"quantitative","axis":null},"detail":{"field":"k"}}},
{"data":{"name":"ind"},"transform":[{"filter":"datum.k=='u2'||datum.k=='md'||datum.k=='l2'"}],"mark":{"type":"line","color":"#ffff00","strokeWidth":2.5,"clip":true,"interpolate":"monotone"},
 "encoding":{"x":{"field":"t","type":"temporal","axis":null},"y":{"field":"p","type":"quantitative","axis":null},"detail":{"field":"k"}}},
{"data":{"name":"ind"},"transform":[{"filter":"datum.k=='ma'"}],"mark":{"type":"line","color":"#f2dccc","strokeWidth":1.5,"clip":true,"interpolate":"monotone"},
 "encoding":{"x":{"field":"t","type":"temporal","axis":null},"y":{"field":"p","type":"quantitative","axis":null}}},
{"data":{"name":"trend"},"transform":[{"filter":"datum.n!='fib'"}],"mark":{"type":"line","strokeWidth":1.8,"clip":true},
 "encoding":{"x":{"field":"t","type":"temporal","axis":null},"y":{"field":"p","type":"quantitative","axis":null},"detail":{"field":"n"},
  "color":{"field":"n","type":"nominal","legend":null,"scale":{"domain":["up","down","ch1","ch2"],"range":["#f0a800","#e0a800","#ff00ff","#ff00ff"]}}}},
{"data":{"name":"trend"},"transform":[{"filter":"datum.n=='fib'"}],"mark":{"type":"line","color":"#c00000","strokeWidth":1,"strokeDash":[2,2],"clip":true},
 "encoding":{"x":{"field":"t","type":"temporal","axis":null},"y":{"field":"p","type":"quantitative","axis":null}}},
{"data":{"values":[{"t":"2022-03-01T12:03Z","t2":"2022-03-02T02:06Z","p":114.710,"p2":114.934}]},"mark":{"type":"rect","filled":false,"stroke":"#ff00ff","strokeWidth":2},
 "encoding":{"x":{"field":"t","type":"temporal","axis":null},"x2":{"field":"t2"},"y":{"field":"p","type":"quantitative","axis":null},"y2":{"field":"p2"}}},
{"data":{"name":"candles"},"mark":{"type":"rule","strokeWidth":1},
 "encoding":{"x":{"field":"t","type":"temporal","axis":null},"y":{"field":"l","type":"quantitative","axis":null},"y2":{"field":"h"},
  "color":{"condition":[{"test":"datum.c>datum.o","value":"#1e90ff"},{"test":"datum.c<datum.o","value":"#ff0000"}],"value":"#00c000"}}},
{"data":{"name":"candles"},"mark":{"type":"bar","width":6,"strokeWidth":1},
 "encoding":{
  "x":{"field":"t","type":"temporal","scale":{"type":"utc","domain":[{"year":2022,"month":"Feb","date":28,"hours":21,"minutes":24,"utc":true},{"year":2022,"month":"Mar","date":4,"hours":21,"minutes":25,"utc":true}],"nice":false},"axis":null},
  "y":{"field":"o","type":"quantitative","scale":{"domain":[114.6777,115.867],"nice":false,"zero":false},"axis":null},
  "y2":{"field":"c"},
  "fill":{"condition":[{"test":"datum.c>datum.o","value":"#1e90ff"},{"test":"datum.c<datum.o","value":"#ff0000"}],"value":"#00c000"},
  "stroke":{"condition":[{"test":"datum.c>datum.o","value":"#1e90ff"},{"test":"datum.c<datum.o","value":"#ff0000"}],"value":"#00c000"}}},
{"data":{"name":"levels"},"mark":{"type":"text","color":"#dcdcdc","fontSize":14.5,"font":"Liberation Sans","align":"left","baseline":"alphabetic","dy":-3},
 "encoding":{"x":{"datum":{"year":2022,"month":"Mar","date":2,"hours":18,"minutes":35,"utc":true},"type":"temporal","axis":null},"y":{"field":"p","type":"quantitative","axis":null},"text":{"field":"s"}}},
{"data":{"values":[{"v":1}]},"mark":{"type":"rule","color":"#909090","strokeWidth":1},
 "encoding":{"x":{"datum":{"year":2022,"month":"Mar","date":4,"hours":21,"minutes":25,"utc":true},"type":"temporal","axis":null}}},
{"data":{"values":[{"v":1}]},"mark":{"type":"rule","color":"#808080","strokeWidth":1},
 "encoding":{"y":{"datum":114.6777,"type":"quantitative","axis":null}}},
{"data":{"name":"yt"},"mark":{"type":"rule","color":"#b0b0b0","strokeWidth":1},
 "encoding":{"x":{"datum":{"year":2022,"month":"Mar","date":4,"hours":21,"minutes":25,"utc":true},"type":"temporal","axis":null},"x2":{"datum":{"year":2022,"month":"Mar","date":4,"hours":21,"minutes":40,"utc":true}},"y":{"field":"p","type":"quantitative","axis":null}}},
{"data":{"name":"yt"},"mark":{"type":"text","color":"#d0d0d0","fontSize":8.5,"font":"Liberation Sans","align":"left","baseline":"middle","dy":-1},
 "encoding":{"x":{"datum":{"year":2022,"month":"Mar","date":4,"hours":21,"minutes":43,"utc":true},"type":"temporal","axis":null},"y":{"field":"p","type":"quantitative","axis":null},"text":{"field":"s"}}},
{"data":{"name":"boxes"},"mark":{"type":"point","shape":"M-1,-0.25H1V0.25H-1Z","size":1369,"filled":true,"opacity":1,"strokeWidth":0},
 "encoding":{"x":{"datum":{"year":2022,"month":"Mar","date":4,"hours":23,"minutes":25,"utc":true},"type":"temporal","axis":null},"y":{"field":"p","type":"quantitative","axis":null},
  "color":{"condition":{"test":"datum.k=='bid'","value":"#ffffff"},"value":"#22e2ee"}}},
{"data":{"name":"boxes"},"mark":{"type":"text","color":"#000000","fontSize":8.5,"font":"Liberation Sans","align":"center","baseline":"middle"},
 "encoding":{"x":{"datum":{"year":2022,"month":"Mar","date":4,"hours":23,"minutes":25,"utc":true},"type":"temporal","axis":null},"y":{"field":"p","type":"quantitative","axis":null},"text":{"field":"s"}}},
{"data":{"values":[{"s":"USDJPY_MT,H1  115.457 115.465 115.409 115.456"}]},"mark":{"type":"text","color":"#c8c8c8","fontSize":8,"font":"Liberation Sans","align":"left","baseline":"middle"},
 "encoding":{"x":{"datum":{"year":2022,"month":"Feb","date":28,"hours":21,"minutes":24,"utc":true},"type":"temporal","axis":null},"y":{"datum":115.852,"type":"quantitative","axis":null},"text":{"field":"s"}}},
{"data":{"values":[{"s":"TIME REMAIN"}]},"mark":{"type":"text","color":"#c8c8c8","fontSize":12.5,"font":"DejaVu Sans Condensed, Liberation Sans","align":"right","baseline":"middle"},
 "encoding":{"x":{"datum":{"year":2022,"month":"Mar","date":4,"hours":20,"minutes":9,"utc":true},"type":"temporal","axis":null},"y":{"datum":115.764,"type":"quantitative","axis":null},"text":{"field":"s"}}},
{"data":{"values":[{"s":"00:17:22"}]},"mark":{"type":"text","color":"#c8c8c8","fontSize":15.5,"font":"DejaVu Sans Condensed, Liberation Sans","align":"right","baseline":"middle"},
 "encoding":{"x":{"datum":{"year":2022,"month":"Mar","date":4,"hours":20,"minutes":9,"utc":true},"type":"temporal","axis":null},"y":{"datum":115.719,"type":"quantitative","axis":null},"text":{"field":"s"}}},
{"data":{"values":[{"s":"Bid"}]},"mark":{"type":"text","color":"#c8c8c8","fontSize":12.5,"font":"DejaVu Sans Condensed, Liberation Sans","align":"right","baseline":"middle"},
 "encoding":{"x":{"datum":{"year":2022,"month":"Mar","date":4,"hours":20,"minutes":9,"utc":true},"type":"temporal","axis":null},"y":{"datum":115.668,"type":"quantitative","axis":null},"text":{"field":"s"}}},
{"data":{"values":[{"s":"115.456"}]},"mark":{"type":"text","color":"#c8c8c8","fontSize":15.5,"font":"DejaVu Sans Condensed, Liberation Sans","align":"right","baseline":"middle"},
 "encoding":{"x":{"datum":{"year":2022,"month":"Mar","date":4,"hours":20,"minutes":9,"utc":true},"type":"temporal","axis":null},"y":{"datum":115.620,"type":"quantitative","axis":null},"text":{"field":"s"}}},
{"data":{"values":[{"s":"USDJPY_MT H1"}]},"mark":{"type":"text","color":"#ffffff","fontSize":30,"font":"DejaVu Sans Condensed, Liberation Sans","align":"right","baseline":"alphabetic"},
 "encoding":{"x":{"datum":{"year":2022,"month":"Mar","date":4,"hours":21,"minutes":8,"utc":true},"type":"temporal","axis":null},"y":{"datum":114.681,"type":"quantitative","axis":null},"text":{"field":"s"}}}
]
},
{
"width":983,"height":94,
"view":{"stroke":"#808080"},
"layer":[
{"data":{"values":[{"v":0}]},"mark":{"type":"rule","color":"#a0a0a0","strokeDash":[2,2],"strokeWidth":1},
 "encoding":{"y":{"field":"v","type":"quantitative","axis":null}}},
{"data":{"name":"macd"},"mark":{"type":"rule","strokeWidth":2},
 "encoding":{
  "x":{"field":"t","type":"temporal","scale":{"type":"utc","domain":[{"year":2022,"month":"Feb","date":28,"hours":21,"minutes":24,"utc":true},{"year":2022,"month":"Mar","date":4,"hours":21,"minutes":25,"utc":true}],"nice":false},"axis":null},
  "y":{"field":"h","type":"quantitative","scale":{"domain":[-0.1733,0.1944],"nice":false,"zero":false},"axis":null},
  "y2":{"datum":0},
  "color":{"condition":{"test":"datum.h>=0","value":"#2a7ee0"},"value":"#e00000"}}},
{"data":{"name":"macd"},"mark":{"type":"line","color":"#1ecbe1","strokeWidth":1.5},
 "encoding":{"x":{"field":"t","type":"temporal","axis":null},"y":{"field":"m","type":"quantitative","axis":null}}},
{"data":{"name":"macd"},"mark":{"type":"point","filled":true,"color":"#ffff00","size":13,"opacity":1},
 "encoding":{"x":{"field":"t","type":"temporal","axis":null},"y":{"field":"s","type":"quantitative","axis":null}}},
{"data":{"values":[{"s":"MACD(12,26,9) -0.0061 0.0432 0.0000 -0.0494"}]},"mark":{"type":"text","color":"#c8c8c8","fontSize":8,"font":"Liberation Sans","align":"left","baseline":"middle"},
 "encoding":{"x":{"datum":{"year":2022,"month":"Feb","date":28,"hours":21,"minutes":24,"utc":true},"type":"temporal","axis":null},"y":{"datum":0.167,"type":"quantitative","axis":null},"text":{"field":"s"}}},
{"data":{"name":"mt"},"mark":{"type":"rule","color":"#a0a0a0","strokeWidth":1},
 "encoding":{"x":{"datum":{"year":2022,"month":"Mar","date":4,"hours":21,"minutes":25,"utc":true},"type":"temporal","axis":null},"x2":{"datum":{"year":2022,"month":"Mar","date":4,"hours":21,"minutes":40,"utc":true}},"y":{"field":"v","type":"quantitative","axis":null}}},
{"data":{"name":"mt"},"mark":{"type":"text","color":"#d0d0d0","fontSize":8,"font":"Liberation Sans","align":"left","baseline":"middle"},
 "encoding":{"x":{"datum":{"year":2022,"month":"Mar","date":4,"hours":21,"minutes":43,"utc":true},"type":"temporal","axis":null},"y":{"field":"v","type":"quantitative","axis":null},"text":{"field":"s"}}},
{"data":{"name":"xt"},"mark":{"type":"rule","color":"#a0a0a0","strokeWidth":1},
 "encoding":{"x":{"field":"t","type":"temporal","axis":null},"y":{"datum":-0.1733,"type":"quantitative","axis":null},"y2":{"datum":-0.1870}}},
{"data":{"name":"xt"},"mark":{"type":"text","color":"#d0d0d0","fontSize":8,"font":"Liberation Sans","align":"left","baseline":"top","dx":1},
 "encoding":{"x":{"field":"t","type":"temporal","axis":null},"y":{"datum":-0.1889,"type":"quantitative","axis":null},"text":{"field":"s"}}}
]
}
]
}
